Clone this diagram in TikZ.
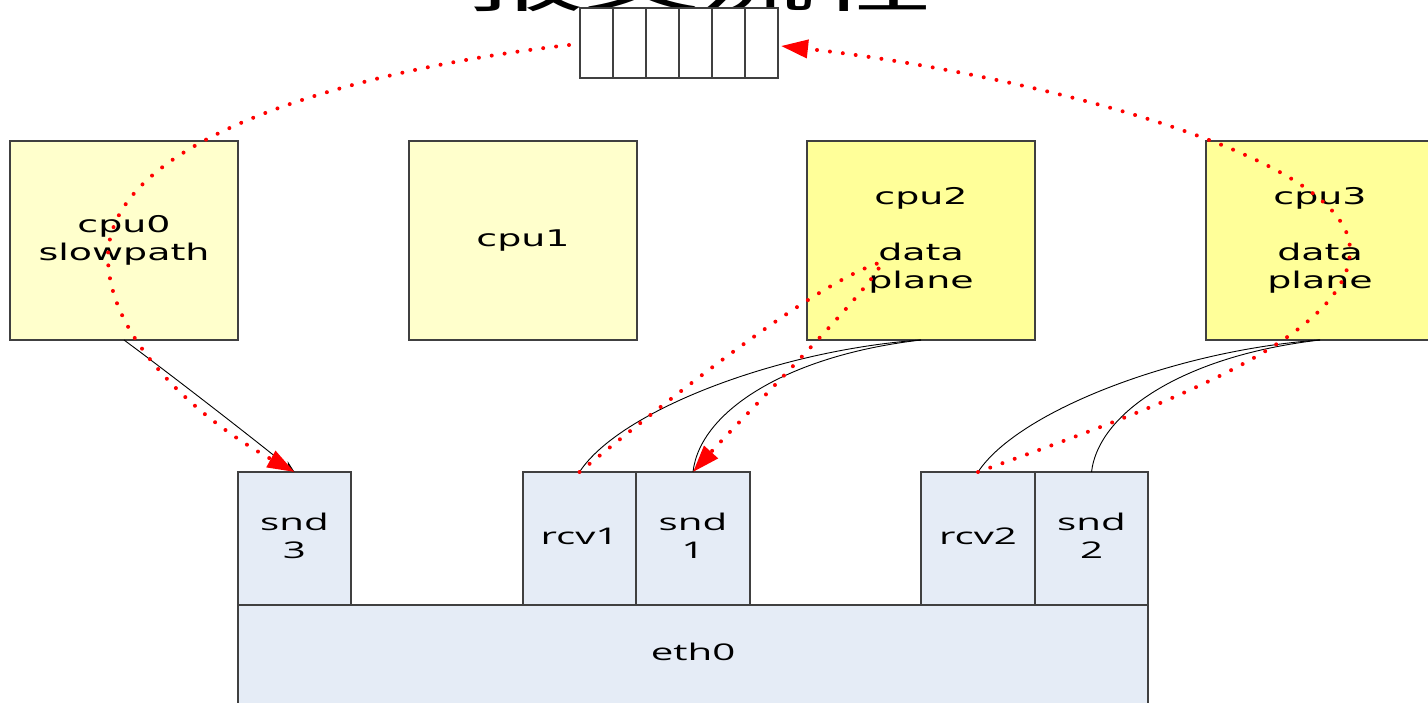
\documentclass[tikz,border=0pt]{standalone}
\usepackage{fontspec}
\usepackage{graphicx}
\usetikzlibrary{arrows.meta}
\newfontfamily\cpufont{DejaVu Sans}
\newfontfamily\nicfont{Open Sans}
\newfontfamily\cjk{Noto Sans CJK SC}
\definecolor{edge}{HTML}{404040}
\definecolor{cpupale}{HTML}{FFFFCC}
\definecolor{cpuhot}{HTML}{FFFF99}
\definecolor{nicfill}{HTML}{E5ECF6}
% horizontally widened, centred block of lines
\newcommand\widetext[2]{\scalebox{#1}[1]{\begin{tabular}{@{}c@{}}#2\end{tabular}}}

\begin{document}
\begin{tikzpicture}[x=1pt,y=-1pt,
  box/.style={draw=edge, line width=1.2pt, anchor=north west, inner sep=0pt, outer sep=0pt},
  cpubox/.style={box, minimum width=228pt, minimum height=199pt,
    font=\cpufont\fontsize{23}{28}\selectfont},
  nicbox/.style={box, fill=nicfill, minimum height=133pt,
    font=\nicfont\fontsize{23}{28}\selectfont},
  qcell/.style={box, fill=white, minimum width=33pt, minimum height=70pt},
  wire/.style={black, line width=0.9pt},
  reddots/.style={red, line width=4pt, line cap=round, dash pattern=on 0pt off 13pt},
  redtip/.style={-{Triangle[length=27pt,width=18pt]}}
]
\useasboundingbox (0,0) rectangle (1428,703);

% heading
\node[anchor=base, inner sep=0pt, font=\cjk\fontsize{64}{64}\selectfont]
  (title) at (700,7) {\scalebox{1.8}[1]{报文流程}};

% ring queue
\foreach \i in {0,...,5}
  \node[qcell] (q\i) at (580+33*\i,8) {};

% cores
\node[cpubox, fill=cpupale] (cpu0) at (10,141) {\widetext{1.65}{cpu0\\slowpath}};
\node[cpubox, fill=cpupale] (cpu1) at (409,141) {\widetext{1.65}{cpu1}};
\node[cpubox, fill=cpuhot] (cpu2) at (807,141) {\widetext{1.65}{cpu2\\ \\data\\plane}};
\node[cpubox, fill=cpuhot] (cpu3) at (1206,141) {\widetext{1.65}{cpu3\\ \\data\\plane}};

% NIC and its queues
\node[nicbox, minimum width=910pt, minimum height=100pt] (eth0) at (238,605) {\widetext{1.75}{eth0}};
\node[nicbox, minimum width=113pt] (snd3) at (238,472) {\widetext{1.75}{snd\\3}};
\node[nicbox, minimum width=113pt] (rcv1) at (523,472) {\widetext{1.75}{rcv1}};
\node[nicbox, minimum width=114pt] (snd1) at (636,472) {\widetext{1.75}{snd\\1}};
\node[nicbox, minimum width=114pt] (rcv2) at (921,472) {\widetext{1.75}{rcv2}};
\node[nicbox, minimum width=113pt] (snd2) at (1035,472) {\widetext{1.75}{snd\\2}};

% core to queue bindings
\draw[wire, -{Stealth[length=12pt,width=8pt]}] (cpu0.south)
  .. controls (170,374) and (250,436) .. (snd3.north);
\draw[wire] (cpu2.south) .. controls (780,350) and (620,410) .. (rcv1.north);
\draw[wire] (cpu2.south) .. controls (790,355) and (700,410) .. (snd1.north);
\draw[wire] (cpu3.south) .. controls (1179,350) and (1019,410) .. (rcv2.north);
\draw[wire] (cpu3.south) .. controls (1189,355) and (1099,410) .. (snd2.north);

% packet paths
\coordinate (qin)  at ([xshift=-11pt,yshift=-2pt]q0.west);
\coordinate (qout) at ([xshift=3pt,yshift=-3pt]q5.east);
\coordinate (turn0) at (108,257);
\coordinate (turn2) at (882,262);
\coordinate (turn3) at (1350,250);

\draw[reddots, redtip] (qin) .. controls (350,70) and (108,140) .. (turn0)
  .. controls (108,340) and (200,420) .. (snd3.north);
\draw[reddots, redtip] (rcv1.north) .. controls (680,390) and (820,280) .. (turn2)
  .. controls (875,285) and (740,420) .. (snd1.north);
\draw[reddots, redtip] (rcv2.north) .. controls (1150,410) and (1350,340) .. (turn3)
  .. controls (1350,150) and (1000,70) .. (qout);
\end{tikzpicture}
\end{document}
